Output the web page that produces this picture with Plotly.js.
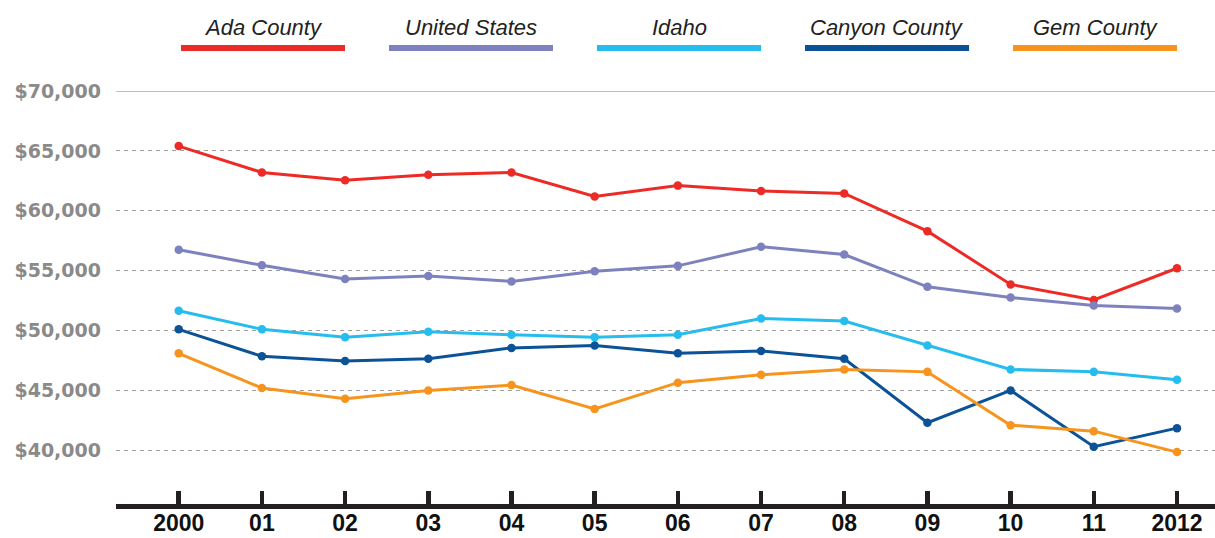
<!DOCTYPE html>
<html>
<head>
<meta charset="utf-8">
<script src="https://cdn.plot.ly/plotly-3.0.1.min.js"></script>
<style>html,body{margin:0;padding:0;background:#fff;}#chart{width:1215px;height:538px;}</style>
</head>
<body>
<div id="chart"></div>
<script>
const years = [2000, 2001, 2002, 2003, 2004, 2005, 2006, 2007, 2008, 2009, 2010, 2011, 2012];
const yearLabels = ['2000', '01', '02', '03', '04', '05', '06', '07', '08', '09', '10', '11', '2012'];
const seriesNames = ['Ada County', 'United States', 'Idaho', 'Canyon County', 'Gem County'];
const seriesColors = ['#ED2B26', '#7D82BE', '#27BCEE', '#0B5297', '#F7941E'];
const adaCounty = [65400, 63200, 62550, 63000, 63200, 61200, 62100, 61650, 61450, 58300, 53850, 52550, 55200];
const unitedStates = [56750, 55450, 54300, 54550, 54100, 54950, 55400, 57000, 56350, 53650, 52750, 52100, 51850];
const idaho = [51650, 50100, 49450, 49900, 49650, 49450, 49650, 51000, 50800, 48750, 46750, 46550, 45900];
const canyonCounty = [50100, 47850, 47450, 47650, 48550, 48750, 48100, 48300, 47650, 42300, 45000, 40300, 41850];
const gemCounty = [48100, 45200, 44300, 45000, 45450, 43450, 45650, 46300, 46750, 46550, 42100, 41600, 39850];
const yTicks = [40000, 45000, 50000, 55000, 60000, 65000, 70000];
const yTickLabels = ['$40,000', '$45,000', '$50,000', '$55,000', '$60,000', '$65,000', '$70,000'];

const seriesValues = [adaCounty, unitedStates, idaho, canyonCounty, gemCounty];

const traces = seriesValues.map((vals, i) => ({
  type: 'scatter',
  mode: 'lines+markers',
  name: seriesNames[i],
  x: years,
  y: vals,
  line: {color: seriesColors[i], width: 3},
  marker: {color: seriesColors[i], size: 8.5},
  hoverinfo: 'x+y+name'
}));

// legend layout (pixel geometry converted to paper coordinates)
const W = 1215, ml = 116, mr = 0, mt = 91, mb = 34, H = 538;
const pw = W - ml - mr, ph = H - mt - mb;
const px2x = p => (p - ml) / pw;
const px2y = p => 1 + (mt - p) / ph;
const legStart = 181, legW = 164, legStep = 208;

const shapes = [];
const annotations = [];
seriesNames.forEach((name, i) => {
  const x0 = legStart + i * legStep;
  shapes.push({
    type: 'line', xref: 'paper', yref: 'paper',
    x0: px2x(x0), x1: px2x(x0 + legW), y0: px2y(48), y1: px2y(48),
    line: {color: seriesColors[i], width: 6}
  });
  annotations.push({
    xref: 'paper', yref: 'paper',
    x: px2x(x0 + legW / 2), y: px2y(28),
    xanchor: 'center', yanchor: 'middle',
    text: '<i>' + name + '</i>', showarrow: false,
    font: {family: 'Liberation Sans, Arial, sans-serif', size: 22, color: '#222'}
  });
});
// solid top gridline
shapes.push({
  type: 'line', xref: 'paper', yref: 'y', x0: 0, x1: 1, y0: 70000, y1: 70000,
  line: {color: '#aaaaaa', width: 1.3}, layer: 'below'
});

const layout = {
  width: W, height: H,
  margin: {l: ml, r: mr, t: mt, b: mb},
  paper_bgcolor: '#ffffff',
  plot_bgcolor: '#ffffff',
  showlegend: false,
  xaxis: {
    range: [1999.246, 2012.457],
    tickvals: years,
    ticktext: yearLabels,
    showgrid: false,
    zeroline: false,
    showline: true,
    linecolor: '#231f20',
    linewidth: 5,
    ticks: 'inside',
    ticklen: 13,
    tickwidth: 4.5,
    tickcolor: '#231f20',
    ticklabelstandoff: -6,
    tickfont: {family: 'Liberation Sans, Arial, sans-serif', size: 23, color: '#111', weight: 'bold'},
    fixedrange: true
  },
  yaxis: {
    range: [35518, 70000],
    tickvals: yTicks,
    ticktext: yTickLabels,
    showgrid: true,
    gridcolor: '#9e9e9e',
    gridwidth: 1,
    griddash: '4px,4px',
    zeroline: false,
    showline: false,
    ticks: '',
    ticklabelstandoff: 14,
    tickfont: {family: 'DejaVu Sans, sans-serif', size: 19, color: '#8a8a8a', weight: 'bold'},
    fixedrange: true
  },
  shapes: shapes,
  annotations: annotations
};

Plotly.newPlot('chart', traces, layout, {displayModeBar: false, staticPlot: true});
</script>
</body>
</html>
